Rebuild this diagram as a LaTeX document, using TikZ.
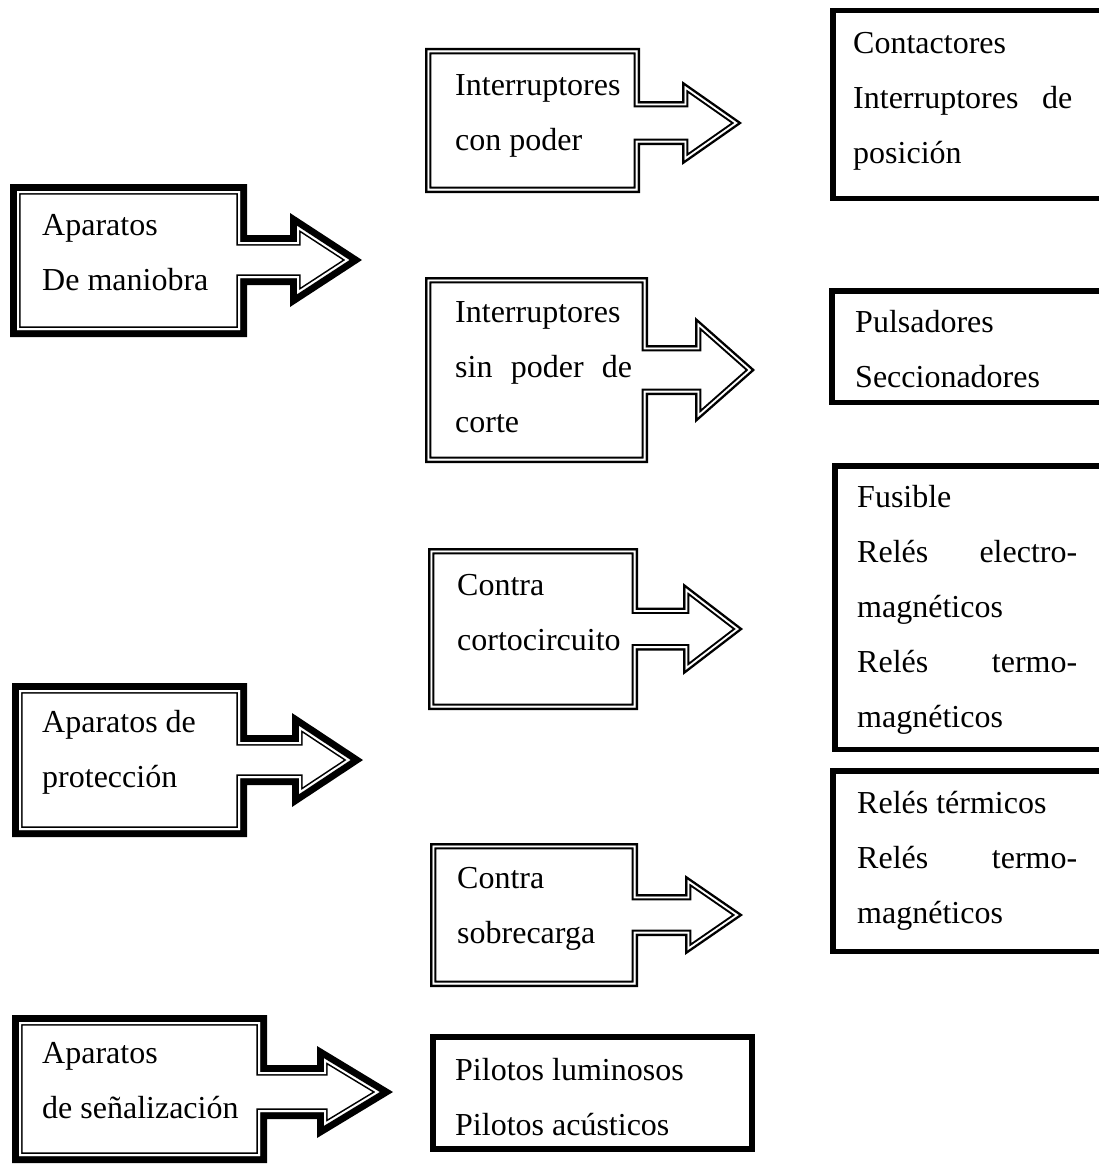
\documentclass[tikz,border=0pt]{standalone}
\usepackage{fontspec}
\setmainfont{Liberation Serif}

% Outline of a right-arrow callout, given its outer silhouette:
% #1 x0, #2 y0, #3 x1, #4 y1 (body), #5 head base x, #6 tip x, #7 axis y,
% #8 shaft half height, #9 head half height. \Tw is the outer band width.
\newcommand\setcallout[9]{%
  \pgfmathsetmacro\cXa{#1+\Tw}%
  \pgfmathsetmacro\cYa{#2+\Tw}%
  \pgfmathsetmacro\cXb{#3-\Tw}%
  \pgfmathsetmacro\cYb{#4-\Tw}%
  \pgfmathsetmacro\cXh{#5+\Tw}%
  \pgfmathsetmacro\cAng{atan(#9/(#6-#5))}%
  \pgfmathsetmacro\cXt{#6-\Tw/sin(\cAng)}%
  \pgfmathsetmacro\cS{#8-\Tw}%
  \pgfmathsetmacro\cH{(\cXt-\cXh)*tan(\cAng)}%
  \pgfmathsetmacro\cSt{#7-\cS}\pgfmathsetmacro\cSb{#7+\cS}%
  \pgfmathsetmacro\cHt{#7-\cH}\pgfmathsetmacro\cHb{#7+\cH}%
  \edef\cpath{(\cXa,\cYa) -- (\cXb,\cYa) -- (\cXb,\cSt) -- (\cXh,\cSt)
    -- (\cXh,\cHt) -- (\cXt,#7) -- (\cXh,\cHb) -- (\cXh,\cSb)
    -- (\cXb,\cSb) -- (\cXb,\cYb) -- (\cXa,\cYb) -- cycle}}

% Outer band, white gap, thin inner line
\newcommand\drawcallout{%
  \pgfmathsetmacro\cWa{2*\Tw}%
  \pgfmathsetmacro\cWb{2*(\Gw+\Iw)}%
  \pgfmathsetmacro\cWc{2*\Gw}%
  \draw[line width=\cWa pt] \cpath;
  \fill[white] \cpath;
  \begin{scope}
    \clip \cpath;
    \draw[line width=\cWb pt] \cpath;
    \draw[white, line width=\cWc pt] \cpath;
  \end{scope}}

\begin{document}
\begin{tikzpicture}[x=1pt, y=-1pt, line join=miter, miter limit=20,
  txt/.style={inner sep=0pt, anchor=base west, font=\fontsize{32}{55}\selectfont},
  listbox/.style={draw=black, line width=5.5pt},
  pilotbox/.style={draw=black, line width=6pt}]

\fill[white] (0,0) rectangle (1099,1164);
\useasboundingbox (0,0) rectangle (1099,1164);
\clip (0,0) rectangle (1099,1164);

% ---- heavy callouts: device families ----
\def\Tw{7}\def\Gw{2}\def\Iw{1.6}
\setcallout{10}{184}{247}{337}{290}{362}{260}{25}{47}\drawcallout
\setcallout{12}{683}{247}{837}{292}{363}{760}{25}{47}\drawcallout
\setcallout{12}{1015}{267}{1163}{317}{393}{1092}{27}{46}\drawcallout

% ---- light callouts: sub-groups ----
\def\Tw{2.5}\def\Gw{1.8}\def\Iw{2}
\setcallout{425}{48}{640}{193}{682}{742}{123}{22}{42}\drawcallout
\setcallout{425}{277}{648}{463}{695}{755}{370}{25}{53}\drawcallout
\setcallout{428}{548}{638}{710}{683}{743}{629}{21.5}{46}\drawcallout
\setcallout{430}{843}{638}{987}{685}{743}{915}{21}{40}\drawcallout

% ---- list boxes ----
\draw[listbox] (832.75,10.75) rectangle (1110,198.25);
\draw[listbox] (831.75,290.75) rectangle (1110,402.25);
\draw[listbox] (834.75,465.75) rectangle (1110,749.25);
\draw[listbox] (832.75,770.75) rectangle (1110,951.25);
\draw[pilotbox] (433,1037) rectangle (752,1149);

% ---- texts ----
\node[txt] (maniobra) at (42,235) {\parbox[t]{200pt}{Aparatos\\De maniobra}};
\node[txt] (proteccion) at (42,732) {\parbox[t]{200pt}{Aparatos de\\protección}};
\node[txt] (senal) at (42,1063) {\parbox[t]{220pt}{Aparatos\\de señalización}};

\node[txt] (conpoder) at (455,95) {\parbox[t]{180pt}{Interruptores\\con poder}};
\node[txt] (sinpoder) at (455,322) {\parbox[t]{177pt}{Interruptores\\sin\hfill poder\hfill de\\corte}};
\node[txt] (corto) at (457,595) {\parbox[t]{180pt}{Contra\\cortocircuito}};
\node[txt] (sobre) at (457,888) {\parbox[t]{180pt}{Contra\\sobrecarga}};

\node[txt] (contact) at (853,53) {\parbox[t]{219pt}{Contactores\\Interruptores\hfill de\\posición}};
\node[txt] (pulsa) at (855,332) {\parbox[t]{219pt}{Pulsadores\\Seccionadores}};
\node[txt] (fusible) at (857,507) {\parbox[t]{220pt}{Fusible\\Relés\hfill electro-\\magnéticos\\Relés\hfill termo-\\magnéticos}};
\node[txt] (termicos) at (857,813) {\parbox[t]{220pt}{Relés térmicos\\Relés\hfill termo-\\magnéticos}};
\node[txt] (pilotos) at (455,1080) {\parbox[t]{290pt}{Pilotos luminosos\\Pilotos acústicos}};

\end{tikzpicture}
\end{document}
